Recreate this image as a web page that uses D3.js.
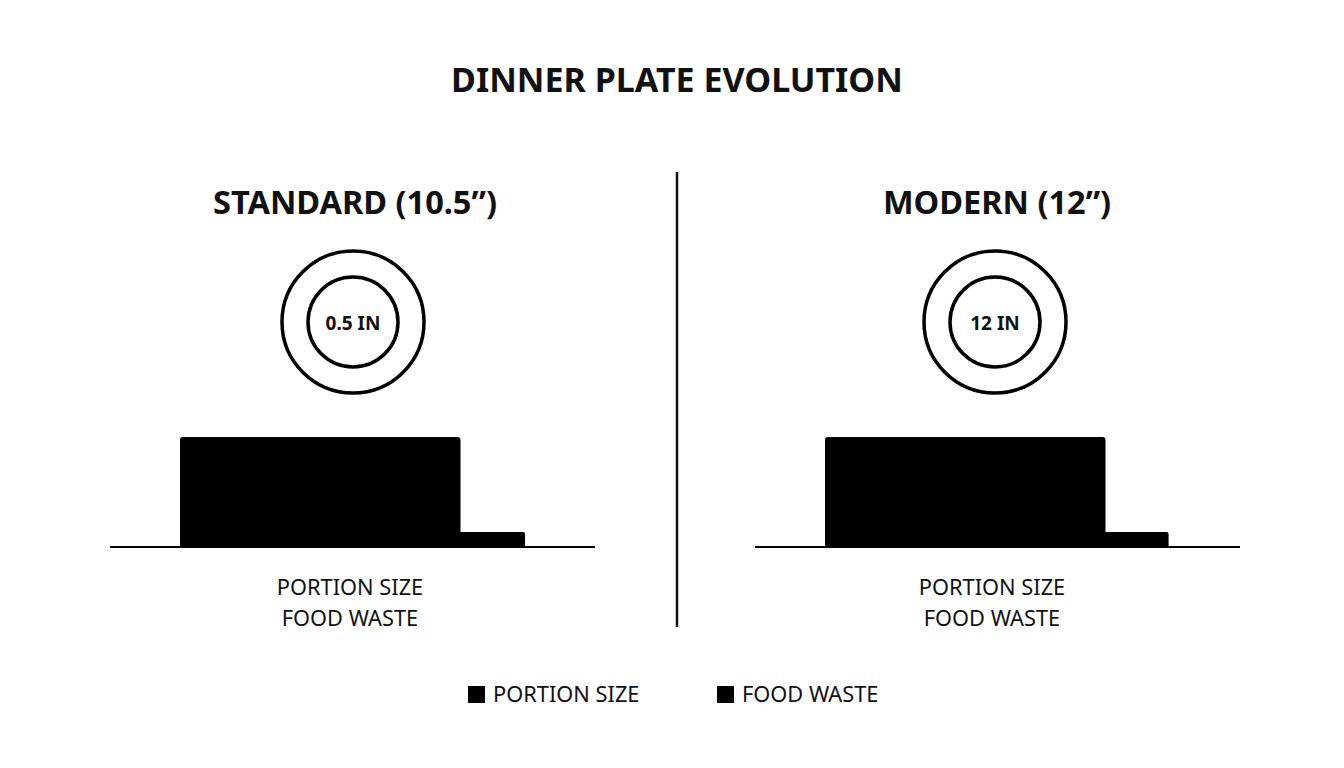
<!DOCTYPE html>
<meta charset="utf-8">
<script src="https://cdnjs.cloudflare.com/ajax/libs/d3/7.8.5/d3.min.js"></script>
<style>
body { margin: 0; background: #fff; }
text { font-family: "Noto Sans", "Open Sans", sans-serif; fill: #111; }
</style>
<body>
<script>
// data
var panels = ["STANDARD (10.5\u201d)", "MODERN (12\u201d)"];
var plateLabels = ["0.5 IN", "12 IN"];
var portion = [100, 100];
var waste = [23, 22.5];
var legendItems = ["PORTION SIZE", "FOOD WASTE"];

var w = 1344, h = 768;

var svg = d3.select("body").append("svg")
  .attr("width", w)
  .attr("height", h);

// title
svg.append("text")
  .attr("x", 677).attr("y", 92)
  .attr("text-anchor", "middle")
  .style("font-size", "34px").style("font-weight", "bold")
  .text("DINNER PLATE EVOLUTION");

// divider
svg.append("line")
  .attr("x1", 677).attr("x2", 677)
  .attr("y1", 172).attr("y2", 627)
  .attr("stroke", "#111").attr("stroke-width", 2.5);

// panel positions
var panelX = d3.scalePoint().domain(d3.range(panels.length)).range([353, 995]);
var barX = d3.scalePoint().domain(d3.range(panels.length)).range([180, 825]);

// bar width scale (units -> px)
var xScale = d3.scaleLinear().domain([0, 100]).range([0, 280.5]);

var baseY = 547;
var bigH = 110, smallH = 15;

panels.forEach(function(p, i) {
  var cx = panelX(i);
  var g = svg.append("g");

  g.append("text")
    .attr("x", cx + 2).attr("y", 214)
    .attr("text-anchor", "middle")
    .style("font-size", "32.5px").style("font-weight", "bold")
    .text(p);

  // plate
  g.append("circle").attr("cx", cx).attr("cy", 322).attr("r", 71)
    .attr("fill", "none").attr("stroke", "#000").attr("stroke-width", 3.5);
  g.append("circle").attr("cx", cx).attr("cy", 322).attr("r", 45)
    .attr("fill", "none").attr("stroke", "#000").attr("stroke-width", 3.5);
  g.append("text")
    .attr("x", cx).attr("y", 330)
    .attr("text-anchor", "middle")
    .style("font-size", "19px").style("font-weight", "bold")
    .text(plateLabels[i]);

  // bars
  var x0 = barX(i);
  var pw = xScale(portion[i]), ww = xScale(waste[i]);

  g.append("line")
    .attr("x1", x0 - 70).attr("x2", x0 + 415)
    .attr("y1", baseY).attr("y2", baseY)
    .attr("stroke", "#000").attr("stroke-width", 2.2);

  g.append("rect")
    .attr("x", x0 + pw - 6).attr("y", baseY - smallH)
    .attr("width", ww + 6).attr("height", smallH + 1)
    .attr("rx", 2).attr("fill", "#000");
  g.append("rect")
    .attr("x", x0).attr("y", baseY - bigH)
    .attr("width", pw).attr("height", bigH + 1)
    .attr("rx", 3).attr("fill", "#000");

  g.append("text")
    .attr("x", cx - 3).attr("y", 595)
    .attr("text-anchor", "middle")
    .style("font-size", "21.8px")
    .text("PORTION SIZE");
  g.append("text")
    .attr("x", cx - 3).attr("y", 626)
    .attr("text-anchor", "middle")
    .style("font-size", "21.8px")
    .text("FOOD WASTE");
});

// legend
var legendX = [468, 717];
legendItems.forEach(function(t, i) {
  svg.append("rect")
    .attr("x", legendX[i]).attr("y", 686)
    .attr("width", 17).attr("height", 17)
    .attr("fill", "#000");
  svg.append("text")
    .attr("x", legendX[i] + 25).attr("y", 702)
    .style("font-size", "21.8px")
    .text(t);
});
</script>
</body>
